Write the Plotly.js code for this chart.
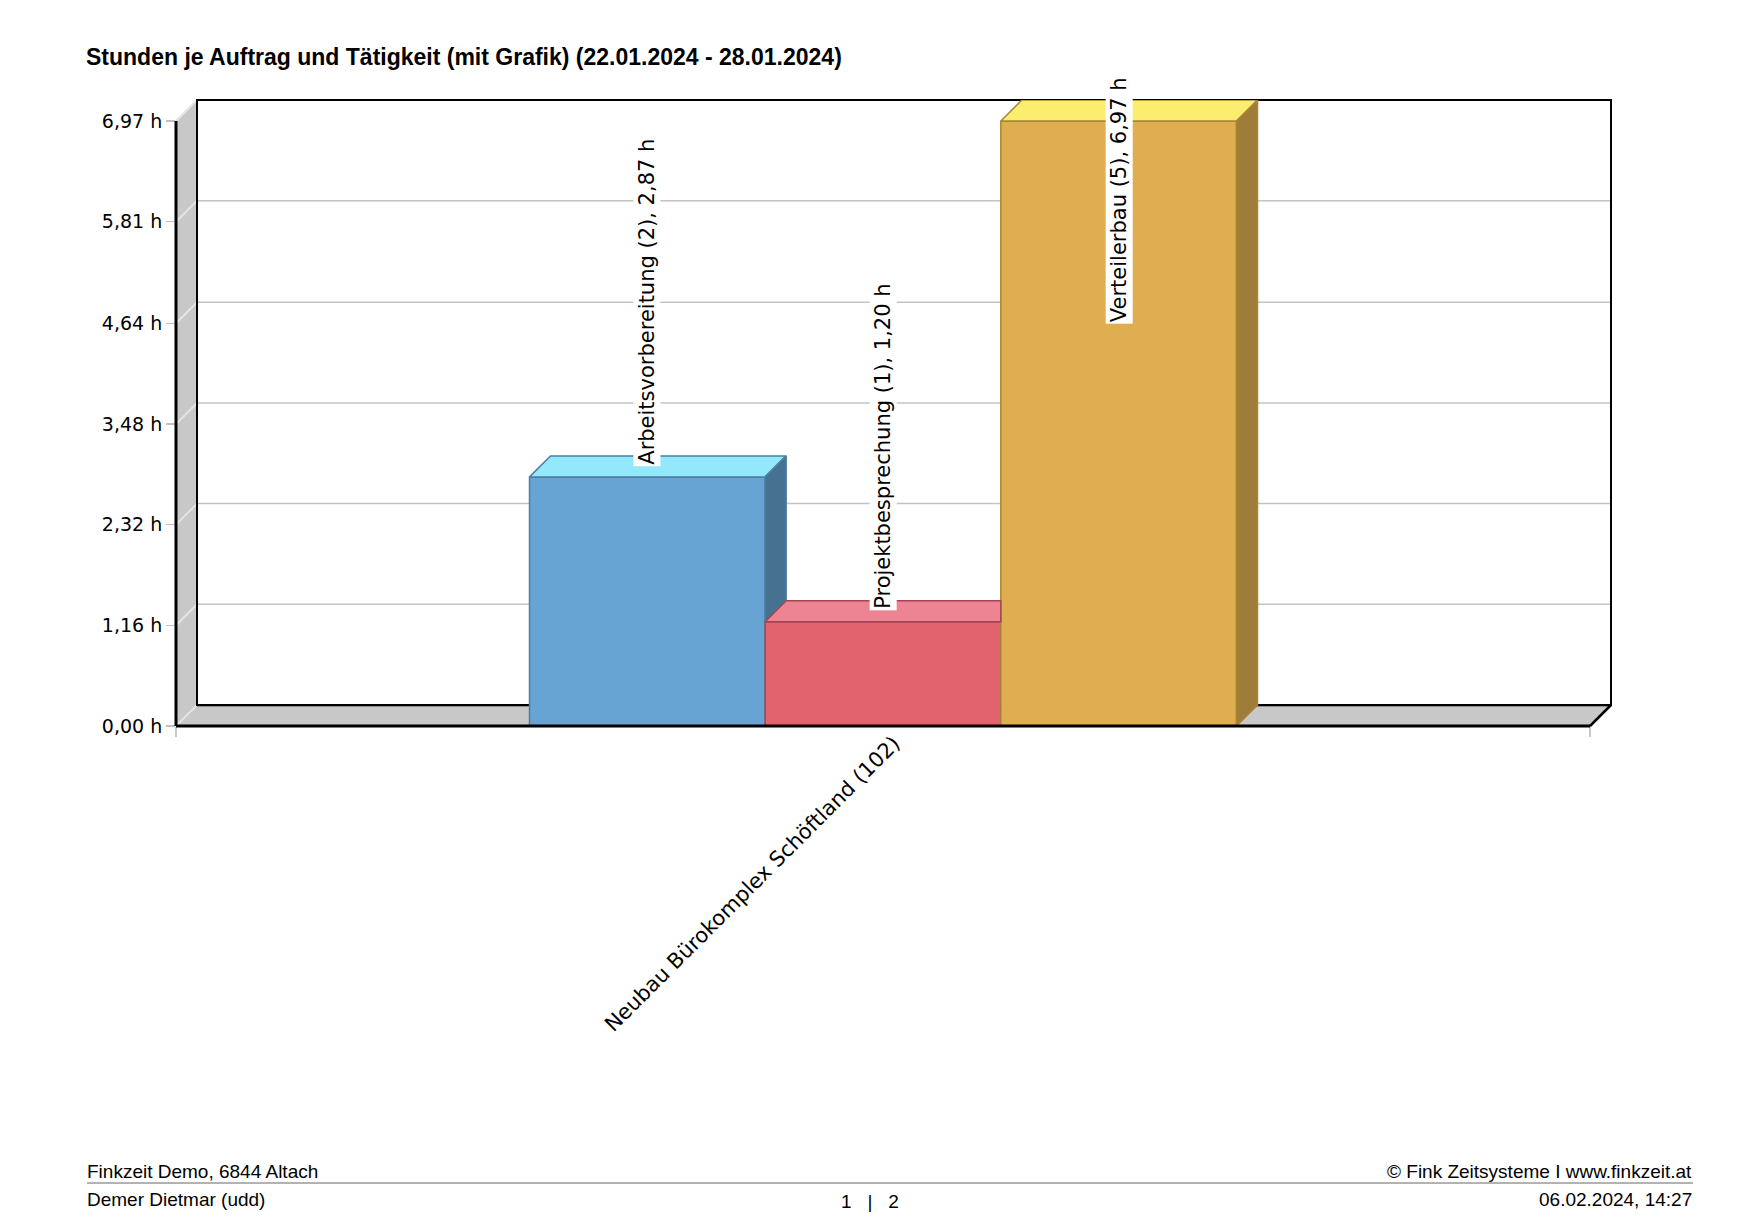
<!DOCTYPE html>
<html>
<head>
<meta charset="utf-8">
<script src="https://cdn.plot.ly/plotly-3.0.1.min.js"></script>
<style>html,body{margin:0;padding:0;background:#fff;}#chart{width:1746px;height:1228px;}</style>
</head>
<body>
<div id="chart"></div>
<script>
// ---------- data ----------
const chartTitle = 'Stunden je Auftrag und Tätigkeit (mit Grafik) (22.01.2024 - 28.01.2024)';
const categories = ['Neubau Bürokomplex Schöftland (102)'];
const seriesNames = ['Arbeitsvorbereitung (2)', 'Projektbesprechung (1)', 'Verteilerbau (5)'];
const seriesValues = [2.87, 1.20, 6.97];
const tickVals = [0, 1.16, 2.32, 3.48, 4.64, 5.81, 6.97];
const tickLabels = ['0,00 h', '1,16 h', '2,32 h', '3,48 h', '4,64 h', '5,81 h', '6,97 h'];
const footerTopLeft = 'Finkzeit Demo, 6844 Altach';
const footerTopRight = '© Fink Zeitsysteme I www.finkzeit.at';
const footerBottomLeft = 'Demer Dietmar (udd)';
const footerBottomCenter = '1\u00a0\u00a0\u00a0|\u00a0\u00a0\u00a02';
const footerBottomRight = '06.02.2024, 14:27';

// ---------- styles ----------
const frontColors = ['#67a4d4', '#e0636e', '#dfae51'];
const topColors   = ['#93e8fb', '#ee8393', '#fbee6e'];
const sideColors  = ['#467190', '#a8434e', '#a07c3a'];
const edgeColors  = ['#4b7ea3', '#a34650', '#a88537'];

// ---------- geometry ----------
const W = 1746, H = 1228;
const ML = 176, MR = 135, MT = 100, MB = 502;
const DEPTH = 21;           // 3D depth in px
const BARGAP = 0.5;
const LABEL_TOP = 25;       // px above plot top where labels are clamped
const plotW = W - ML - MR, plotH = H - MT - MB;

const yTopFront = tickVals[tickVals.length - 1];
const R = yTopFront * plotH / (plotH - DEPTH);
const dyd = R * DEPTH / plotH;
const yScale = plotH / R;
const xr0 = -0.5;
const unitPx = plotW - DEPTH;
const dxd = DEPTH / unitPx;
const xr1 = 0.5 + dxd;

const pX = v => (v - xr0) / (xr1 - xr0);
const pY = v => v / R;
const ppx = p => (p - ML) / plotW;
const ppy = p => (H - MB - p) / plotH;

const N = seriesValues.length;
const groupW = 1 - BARGAP;
const bw = groupW / N;

const traces = [];
// front faces (bars)
seriesNames.forEach((name, i) => {
  traces.push({
    type: 'bar', name: name, x: categories, y: [seriesValues[i]],
    xaxis: 'x', yaxis: 'y',
    marker: {color: frontColors[i], line: {color: edgeColors[i], width: 1.5}},
    hoverinfo: 'skip'
  });
});
// top and side faces
const annotations = [];
seriesNames.forEach((name, i) => {
  const v = seriesValues[i];
  const L = -groupW / 2 + i * bw;
  const Rt = L + bw;
  const hasNext = i < N - 1;
  const nextV = hasNext ? seriesValues[i + 1] : 0;
  const topRight = (hasNext && nextV >= v + dyd) ? Rt : Rt + dxd;
  traces.push({
    type: 'scatter', mode: 'lines', xaxis: 'x2', yaxis: 'y', fill: 'toself',
    x: [L, L + dxd, topRight, Rt, L],
    y: [v, v + dyd, v + dyd, v, v],
    fillcolor: topColors[i], line: {color: edgeColors[i], width: 1.5},
    hoverinfo: 'skip', showlegend: false
  });
  if (nextV < v) {
    traces.push({
      type: 'scatter', mode: 'lines', xaxis: 'x2', yaxis: 'y', fill: 'toself',
      x: [Rt, Rt + dxd, Rt + dxd, Rt, Rt],
      y: [v, v + dyd, nextV + dyd, nextV, v],
      fillcolor: sideColors[i], line: {color: edgeColors[i], width: 1.5},
      hoverinfo: 'skip', showlegend: false
    });
  }
  const label = name + ', ' + v.toFixed(2).replace('.', ',') + ' h';
  const estLen = label.length * 0.5 * 21 + 4;
  const baseY = v + dyd / 2;
  const ann = {
    text: label, textangle: -90, showarrow: false,
    xref: 'x2', x: L + bw / 2, xanchor: 'center',
    bgcolor: '#ffffff', borderpad: 1,
    font: {family: 'DejaVu Sans', size: 21, color: '#000'}
  };
  if (baseY + estLen / yScale > R + LABEL_TOP / yScale) {
    ann.yref = 'paper'; ann.y = 1 + LABEL_TOP / plotH; ann.yanchor = 'top';
  } else {
    ann.yref = 'y'; ann.y = baseY; ann.yanchor = 'bottom';
  }
  annotations.push(ann);
});

// ---------- frame shapes ----------
const shapes = [];
const poly = pts => 'M' + pts.map(p => pX(p[0]) + ',' + pY(p[1])).join(' L') + ' Z';
const linePaper = (x0, y0, x1, y1, color, width, layer) => ({
  type: 'line', xref: 'paper', yref: 'paper',
  x0: pX(x0), y0: pY(y0), x1: pX(x1), y1: pY(y1),
  line: {color: color, width: width}, layer: layer
});
// left wall
shapes.push({type: 'path', xref: 'paper', yref: 'paper', layer: 'below',
  path: poly([[xr0, 0], [xr0, yTopFront], [xr0 + dxd, R], [xr0 + dxd, dyd]]),
  fillcolor: '#c8c8c8', line: {width: 0}});
// floor
shapes.push({type: 'path', xref: 'paper', yref: 'paper', layer: 'below',
  path: poly([[xr0, 0], [xr0 + dxd, dyd], [xr1, dyd], [0.5, 0]]),
  fillcolor: '#c8c8c8', line: {width: 0}});
// back grid lines and left wall diagonals
tickVals.forEach(t => {
  shapes.push(linePaper(xr0 + dxd, t + dyd, xr1, t + dyd, '#c4c4c4', 1.5, 'below'));
  shapes.push(linePaper(xr0, t, xr0 + dxd, t + dyd, '#e4e4e4', 2, 'below'));
});
// inner shadow line of back wall
shapes.push(linePaper(xr0 + dxd, dyd - 1.5 / yScale, xr1, dyd - 1.5 / yScale, '#8c8c8c', 1, 'below'));
// back wall outline
shapes.push({type: 'rect', xref: 'paper', yref: 'paper', layer: 'below',
  x0: pX(xr0 + dxd), y0: pY(dyd), x1: pX(xr1), y1: pY(R),
  line: {color: '#000', width: 2}, fillcolor: 'rgba(0,0,0,0)'});
// front edges
shapes.push(linePaper(xr0, 0, xr0, yTopFront, '#000', 3, 'above'));
shapes.push(linePaper(xr0, 0, 0.5, 0, '#000', 3, 'above'));
shapes.push(linePaper(0.5, 0, xr1, dyd, '#000', 2.5, 'above'));
// footer rule
shapes.push({type: 'line', xref: 'paper', yref: 'paper', x0: ppx(87), x1: ppx(1693), y0: ppy(1183), y1: ppy(1183),
  line: {color: '#666', width: 1}});

// ---------- footer texts ----------
const footFont = {family: 'Liberation Sans', size: 19, color: '#000'};
const foot = (text, x, y, xanchor) => ({text: text, showarrow: false, xref: 'paper', yref: 'paper',
  x: ppx(x), y: ppy(y), xanchor: xanchor, yanchor: 'middle', font: footFont});
annotations.push(foot(footerTopLeft, 85, 1171, 'left'));
annotations.push(foot(footerTopRight, 1694, 1171, 'right'));
annotations.push(foot(footerBottomLeft, 85, 1199, 'left'));
annotations.push(foot(footerBottomCenter, 870, 1201, 'center'));
annotations.push(foot(footerBottomRight, 1694, 1199, 'right'));

const layout = {
  width: W, height: H,
  margin: {l: ML, r: MR, t: MT, b: MB, pad: 0},
  paper_bgcolor: '#ffffff', plot_bgcolor: 'rgba(0,0,0,0)',
  showlegend: false, hovermode: false,
  barmode: 'group', bargap: BARGAP, bargroupgap: 0,
  title: {text: '<b>' + chartTitle + '</b>', xref: 'container', yref: 'container',
    x: 86 / W, xanchor: 'left', y: 1 - 57 / H, yanchor: 'middle',
    font: {family: 'Liberation Sans', size: 23, color: '#000'}},
  xaxis: {type: 'category', range: [xr0, xr1], tickson: 'boundaries', ticks: 'outside', ticklen: 10,
    tickcolor: '#c8c8c8', tickwidth: 1.5, tickangle: -45, ticklabelshift: 11,
    tickfont: {family: 'DejaVu Sans', size: 21, color: '#000'},
    showline: false, showgrid: false, zeroline: false, fixedrange: true},
  xaxis2: {type: 'linear', overlaying: 'x', range: [xr0, xr1], visible: false, fixedrange: true},
  yaxis: {range: [0, R], tickmode: 'array', tickvals: tickVals, ticktext: tickLabels,
    ticks: 'outside', ticklen: 9, tickcolor: '#c0c0c0', tickwidth: 1.5,
    tickfont: {family: 'DejaVu Sans', size: 19, color: '#000'},
    showline: false, showgrid: false, zeroline: false, fixedrange: true},
  shapes: shapes,
  annotations: annotations
};

Plotly.newPlot('chart', traces, layout, {displayModeBar: false, staticPlot: true});
</script>
</body>
</html>
